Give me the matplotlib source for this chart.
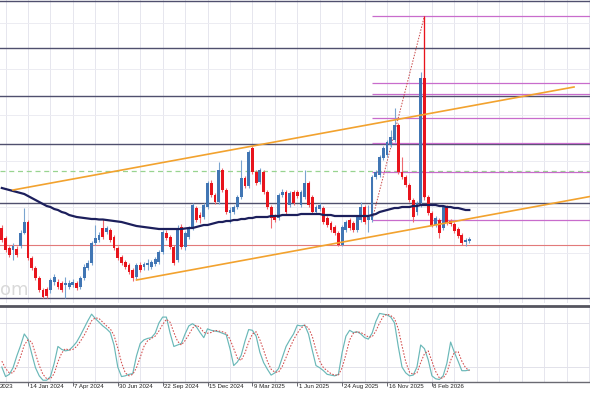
import matplotlib
matplotlib.use("Agg")
import matplotlib.pyplot as plt
import matplotlib.transforms as mtransforms
import numpy as np

# weekly candles, week 0 = 14 Jan 2024
first_week = -7
opens = [72, 62, 52, 50, 51, 54, 67, 78, 42, 32,
         22, 10, 11, 10, 18, 18, 17, 15, 13, 15,
         17, 13, 22, 32, 37, 57, 60, 72, 68, 70,
         63, 52, 43, 38, 35, 30, 23, 35, 33, 35,
         33, 36, 38, 48, 67, 63, 53, 40, 73, 53,
         63, 72, 92, 85, 83, 93, 117, 105, 98, 130,
         110, 87, 88, 93, 103, 122, 114, 152, 128, 118,
         128, 108, 93, 84, 82, 105, 108, 95, 108, 108,
         95, 103, 117, 103, 88, 91, 92, 82, 77, 73,
         67, 55, 70, 80, 77, 70, 80, 93, 80, 80,
         123, 125, 142, 145, 155, 160, 175, 128, 123, 115,
         100, 88, 97, 222, 103, 87, 75, 80, 72, 93,
         79, 76, 71, 65, 58, 59]
closes = [60, 50, 45, 54, 45, 67, 78, 42, 32, 22,
          10, 3, 4, 20, 23, 13, 10, 17, 17, 18,
          12, 22, 33, 37, 57, 62, 65, 63, 72, 60,
          52, 42, 37, 33, 28, 22, 35, 30, 36, 37,
          38, 41, 48, 68, 62, 53, 37, 70, 53, 67,
          72, 95, 80, 82, 95, 117, 105, 98, 130, 110,
          88, 90, 93, 103, 122, 114, 148, 128, 117, 130,
          108, 93, 82, 80, 105, 108, 88, 107, 97, 104,
          108, 117, 95, 88, 93, 95, 78, 75, 70, 67,
          55, 73, 78, 72, 70, 83, 93, 78, 83, 123,
          128, 143, 152, 158, 163, 175, 128, 123, 115, 100,
          83, 97, 222, 103, 87, 75, 82, 67, 93, 77,
          76, 69, 64, 57, 60, 61]
highs = [75, 64, 54, 57, 54, 70, 92, 80, 44, 34,
         24, 12, 13, 22, 26, 21, 19, 23, 20, 21,
         19, 24, 36, 40, 59, 75, 68, 81, 74, 72,
         65, 54, 45, 40, 37, 32, 37, 38, 38, 41,
         40, 43, 50, 70, 70, 65, 55, 75, 76, 69,
         74, 97, 94, 88, 97, 119, 120, 107, 138, 132,
         112, 93, 95, 105, 140, 124, 150, 154, 130, 132,
         130, 110, 95, 86, 107, 111, 110, 109, 110, 110,
         110, 130, 119, 105, 95, 97, 94, 84, 79, 75,
         69, 75, 80, 82, 79, 85, 98, 95, 95, 125,
         130, 145, 154, 160, 170, 192, 177, 143, 125, 117,
         102, 99, 228, 284, 105, 89, 84, 82, 95, 95,
         81, 78, 73, 67, 62, 63]
lows = [58, 48, 43, 40, 43, 52, 66, 40, 30, 20,
        8, 2, 2, 7, 15, 11, 8, 2, 11, 13,
        10, 11, 20, 30, 35, 55, 58, 61, 66, 58,
        50, 40, 35, 31, 26, 19, 21, 28, 30, 30,
        31, 34, 36, 46, 60, 51, 35, 38, 51, 50,
        61, 70, 78, 77, 81, 91, 103, 96, 96, 108,
        86, 77, 86, 91, 101, 112, 112, 126, 115, 116,
        106, 91, 72, 78, 80, 103, 86, 93, 95, 102,
        93, 101, 93, 86, 86, 89, 76, 73, 68, 65,
        54, 54, 68, 70, 68, 68, 78, 76, 68, 78,
        121, 123, 140, 143, 153, 158, 126, 121, 113, 98,
        78, 85, 93, 100, 85, 73, 73, 62, 70, 75,
        74, 67, 62, 55, 54, 57]
ma_line = [112, 111, 110, 109, 108, 107, 106, 104, 102, 100,
           98, 96, 94, 93, 91, 90, 88, 87, 85, 84,
           83, 82.5, 82, 81.5, 81, 81, 80.5, 80.5, 80, 79.5,
           79, 78.5, 78, 77, 76, 75, 74, 73.5, 73, 72.5,
           72, 71.5, 71, 71, 71, 71, 71, 71, 71, 71.5,
           72, 72, 73, 74, 75, 75, 76, 77, 78, 78,
           79, 79, 80, 80, 81, 81, 82, 82, 83, 83,
           83, 83, 84, 84, 84, 85, 85, 85, 85, 85,
           86, 86, 86, 86, 86, 86, 85, 85, 85, 84,
           84, 84, 84, 84, 84, 84, 84, 84, 84, 85,
           86, 88, 89, 90, 91, 92, 92, 93, 93, 93,
           94, 94, 95, 95, 95, 95, 95, 94, 94, 93,
           93, 92, 92, 91, 90, 90]
stoch_k = [20, 7, 10, 19, 35, 49, 65, 58, 38, 19,
           8, 2, 2, 7, 25, 48, 44, 42, 43, 48,
           54, 63, 73, 83, 92, 86, 81, 76, 72, 67,
           50, 20, 7, 8, 10, 11, 35, 52, 57, 59,
           60, 66, 80, 88, 88, 66, 48, 50, 52, 65,
           76, 79, 75, 67, 60, 72, 70, 69, 68, 66,
           64, 45, 22, 27, 36, 55, 71, 70, 62, 40,
           26, 17, 9, 12, 18, 33, 48, 57, 65, 77,
           76, 77, 65, 43, 22, 19, 15, 10, 9, 8,
           10, 40, 62, 70, 67, 68, 65, 60, 58, 66,
           82, 93, 92, 91, 88, 80, 48, 20, 12, 8,
           9, 20, 50, 45, 30, 8, 4, 3, 8, 25,
           54, 40, 28, 15, 15, 16]
stoch_d = [28, 18, 12, 12, 21, 34, 50, 57, 54, 38,
           22, 10, 4, 4, 11, 27, 39, 45, 43, 44,
           48, 55, 63, 73, 83, 87, 86, 81, 76, 72,
           63, 46, 26, 12, 8, 10, 19, 33, 48, 56,
           59, 62, 69, 78, 85, 81, 67, 55, 50, 56,
           64, 73, 77, 74, 67, 66, 67, 70, 69, 68,
           66, 58, 45, 32, 29, 39, 54, 65, 68, 57,
           43, 28, 17, 13, 13, 21, 33, 46, 57, 66,
           73, 77, 73, 62, 43, 28, 19, 15, 11, 9,
           9, 19, 37, 57, 66, 68, 67, 64, 61, 61,
           69, 80, 89, 92, 90, 86, 72, 49, 27, 13,
           10, 12, 26, 38, 42, 28, 14, 5, 5, 12,
           29, 40, 41, 28, 19, 15]

# the first label sits mostly off the left edge; only its year shows
tick_weeks = [-12, 0, 12, 24, 36, 48, 60, 72, 84, 96, 108]
tick_labels = ["2023", "14 Jan 2024", "7 Apr 2024", "30 Jun 2024",
               "22 Sep 2024", "15 Dec 2024", "9 Mar 2025", "1 Jun 2025",
               "24 Aug 2025", "16 Nov 2025", "8 Feb 2026"]

dark_levels = [299, 252, 204, 156, 97, 2]
red_level = 55
green_level = 129
fib_start = 92
fib_levels = [284, 217, 206, 182, 157, 128, 80]
fib_diag = ([92, 106], [80, 284])
upper_channel = ([-4, 146], [110, 213])
lower_channel = ([29, 151], [20, 104])

n = len(opens)
assert all(len(a) == n for a in [closes, highs, lows, ma_line, stoch_k, stoch_d])
weeks = np.arange(first_week, first_week + n)
o = np.array(opens, float)
c = np.array(closes, float)
h = np.array(highs, float)
l = np.array(lows, float)

BLUE = "#4176b4"
RED = "#e8141c"
XMIN, XMAX = -7.49, 150.27

fig = plt.figure(figsize=(5.9, 3.93), dpi=100)
ax = fig.add_axes([0, 90 / 393, 1, 303 / 393])
osc = fig.add_axes([0, 11 / 393, 1, 76 / 393])

for a in (ax, osc):
    for s in a.spines.values():
        s.set_visible(False)
    for g in range(-6, 151, 6):
        a.axvline(g, color="#e6e6ee", lw=0.7, zorder=0)
ax.set_xticks([])
ax.set_yticks([])

for gy in [277, 231, 185, 139, 93, 47]:
    ax.axhline(gy, color="#ececf2", lw=0.7, zorder=0)

# watermark remnant
ax.text(-7.4, 10, "om", ha="left", va="center", fontsize=13,
        color="#d9d9d9", zorder=1)

# levels
for lv in dark_levels:
    ax.axhline(lv, color="#50506e", lw=1.0, zorder=2)
ax.axhline(red_level, color="#e27a7a", lw=0.8, zorder=2)
ax.axhline(green_level, color="#98d490", lw=0.9, ls=(0, (4, 3)), zorder=2)
for lv in fib_levels:
    ax.hlines(lv, fib_start, XMAX, color="#c86ccc", lw=0.9, zorder=2)
ax.plot(fib_diag[0], fib_diag[1], color="#c84848", lw=0.7,
        ls=(0, (1.5, 1.5)), zorder=2)

# candles
up = c >= o
ax.vlines(weeks[up], l[up], h[up], color="#7aa4d0", lw=0.8, zorder=3)
ax.vlines(weeks[~up], l[~up], h[~up], color="#ee6a70", lw=0.8, zorder=3)
ax.vlines(weeks[-13], c[-13], h[-13], color=RED, lw=0.9, zorder=3)
ax.bar(weeks[up], c[up] - o[up], bottom=o[up], width=0.76, color=BLUE,
       lw=0, zorder=3)
ax.bar(weeks[~up], o[~up] - c[~up], bottom=c[~up], width=0.76, color=RED,
       lw=0, zorder=3)

ax.plot(weeks, ma_line, color="#1c1f5c", lw=1.6, zorder=4)
ax.plot(upper_channel[0], upper_channel[1], color="#f2a22e", lw=1.2, zorder=4)
ax.plot(lower_channel[0], lower_channel[1], color="#f2a22e", lw=1.2, zorder=4)

# stochastic panel
for lv in (20, 80):
    osc.axhline(lv, color="#e2e2ea", lw=0.7, zorder=0)
osc.plot(weeks, stoch_k, color="#6ab8b8", lw=0.85, zorder=3)
osc.plot(weeks, stoch_d, color="#d24a4a", lw=0.75, ls=(0, (1.5, 1.5)), zorder=3)
osc.spines["top"].set_visible(True)
osc.spines["top"].set_color("#55555f")
osc.spines["top"].set_linewidth(2.0)
osc.spines["bottom"].set_visible(True)
osc.spines["bottom"].set_color("#6a6a72")
osc.spines["bottom"].set_linewidth(1.0)
osc.set_yticks([])
osc.set_xticks(tick_weeks)
osc.tick_params(axis="x", length=3, width=0.6, colors="#50505a",
                labelbottom=False)

# limits last: set_xticks would otherwise widen the view
for a in (ax, osc):
    a.set_xlim(XMIN, XMAX)
ax.set_ylim(-3, 300)
osc.set_ylim(-0.4, 103.1)

# date labels start just right of their tick, as in the terminal
trans = mtransforms.blended_transform_factory(osc.transData, osc.transAxes)
for wk, lab in zip(tick_weeks, tick_labels):
    osc.text(max(wk + 0.4, XMIN + 0.05), -0.03, lab, transform=trans,
             ha="left", va="top", fontsize=4.4,
             family=["Liberation Sans", "DejaVu Sans"],
             color="#222222", clip_on=False)

fig.savefig("out.png", dpi=100)
